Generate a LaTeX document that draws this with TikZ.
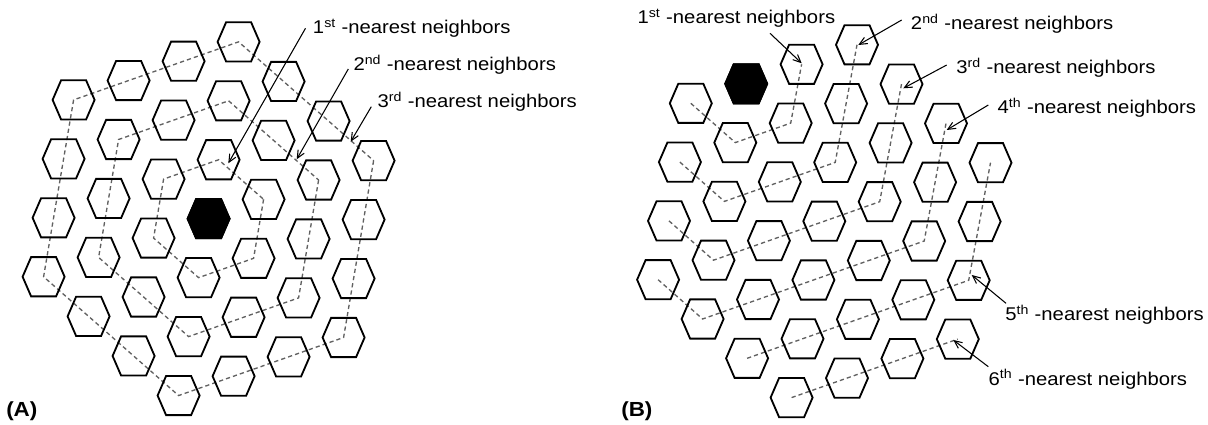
\documentclass[tikz,border=0pt]{standalone}
\usepackage{fontspec}
\setmainfont{Liberation Sans}[FakeStretch=1.1]
\usetikzlibrary{arrows.meta}
\begin{document}
\begin{tikzpicture}[x=0.025cm,y=-0.025cm,
  tile/.style={draw=black,line width=1.3pt,line join=miter},
  core/.style={fill=black,draw=black,line width=1.3pt,line join=miter},
  ring/.style={draw=black!62,dash pattern=on 3pt off 2.2pt,line width=0.95pt,line join=miter},
  ptr/.style={draw=black,line width=0.75pt,-{Straight Barb[length=5.5pt,width=5pt]}},
  lbl/.style={anchor=base west,inner sep=0pt,font=\fontsize{13.1}{16}\selectfont},
  panel/.style={anchor=base west,inner sep=0pt,font=\fontsize{14.5}{17}\selectfont\bfseries},
  pics/hextile/.style={code={\path[#1] (-21,0) -- (-12.5,-19.6) -- (12.5,-19.6) -- (21,0) -- (12.5,19.6) -- (-12.5,19.6) -- cycle;}}]
\useasboundingbox (0,0) rectangle (1208,425);

% ---------- panel A lattice ----------
\foreach \m in {-3,...,3}{\foreach \n in {-3,...,3}{
  \pgfmathtruncatemacro\s{\m+\n}
  \ifnum\s>3\relax\else\ifnum\s<-3\relax\else
    \coordinate (a\m_\n) at ({208.6+\m*55+\n*45},{218.7-\m*19.35+\n*39.6});
  \fi\fi}}

% ---------- panel B lattice ----------
\foreach \m in {-4,...,2}{\foreach \n in {0,...,6}{
  \pgfmathtruncatemacro\s{\m+\n}
  \ifnum\s>5\relax\else\ifnum\s<-1\relax\else
    \coordinate (b\m_\n) at ({746.2+\m*55.4+\n*44.5},{83.8-\m*19.5+\n*39.3});
  \fi\fi}}

% ---------- dashed rings A ----------
\draw[ring] (a1_0) -- (a0_1) -- (a-1_1) -- (a-1_0) -- (a0_-1) -- (a1_-1) -- cycle;
\draw[ring] (a2_0) -- (a0_2) -- (a-2_2) -- (a-2_0) -- (a0_-2) -- (a2_-2) -- cycle;
\draw[ring] (a3_0) -- (a0_3) -- (a-3_3) -- (a-3_0) -- (a0_-3) -- (a3_-3) -- cycle;

% ---------- dashed paths B ----------
\draw[ring] (b-1_0) -- (b-1_1) -- (b0_1) -- (b1_0);
\draw[ring] (b-2_1) -- (b-2_2) -- (b0_2) -- (b2_0);
\draw[ring] (b-3_2) -- (b-3_3) -- (b0_3) -- (b2_1);
\draw[ring] (b-4_3) -- (b-4_4) -- (b0_4) -- (b2_2);
\draw[ring] (b-4_5) -- (b0_5) -- (b2_3);
\draw[ring] (b-4_6) -- (b-1_6);

% ---------- tiles ----------
\foreach \m in {-3,...,3}{\foreach \n in {-3,...,3}{
  \pgfmathtruncatemacro\s{\m+\n}
  \ifnum\s>3\relax\else\ifnum\s<-3\relax\else
    \pic at (a\m_\n) {hextile=tile};
  \fi\fi}}
\pic at (a0_0) {hextile=core};

\foreach \m in {-4,...,2}{\foreach \n in {0,...,6}{
  \pgfmathtruncatemacro\s{\m+\n}
  \ifnum\s>5\relax\else\ifnum\s<-1\relax\else
    \pic at (b\m_\n) {hextile=tile};
  \fi\fi}}
\pic at (b0_0) {hextile=core};

% ---------- labels A ----------
\node[lbl] (LA1) at (312.7,33.3) {1\textsuperscript{st} -nearest neighbors};
\node[lbl] (LA2) at (353.3,70.7) {2\textsuperscript{nd} -nearest neighbors};
\node[lbl] (LA3) at (377.3,107.3) {3\textsuperscript{rd} -nearest neighbors};
\coordinate (tA1) at (305.5,28.3);  \coordinate (hA1) at (228.3,163.3);
\coordinate (tA2) at (348.3,69);    \coordinate (hA2) at (296.7,159.3);
\coordinate (tA3) at (371.3,106.7); \coordinate (hA3) at (350.7,141.7);
\draw[ptr] (tA1) -- (hA1);
\draw[ptr] (tA2) -- (hA2);
\draw[ptr] (tA3) -- (hA3);

% ---------- labels B ----------
\node[lbl] (LB1) at (637.3,23.3) {1\textsuperscript{st} -nearest neighbors};
\node[lbl] (LB2) at (910.7,29.3) {2\textsuperscript{nd} -nearest neighbors};
\node[lbl] (LB3) at (956,73.3) {3\textsuperscript{rd} -nearest neighbors};
\node[lbl] (LB4) at (997.3,113.3) {4\textsuperscript{th} -nearest neighbors};
\node[lbl] (LB5) at (1005,320.7) {5\textsuperscript{th} -nearest neighbors};
\node[lbl] (LB6) at (988.3,385) {6\textsuperscript{th} -nearest neighbors};
\coordinate (tB1) at (770,33.3);    \coordinate (hB1) at (801.7,63.3);
\coordinate (tB2) at (901.7,20);    \coordinate (hB2) at (858.3,45);
\coordinate (tB3) at (946.7,65);    \coordinate (hB3) at (903.3,88.3);
\coordinate (tB4) at (988.3,105);   \coordinate (hB4) at (946.7,130);
\coordinate (tB5) at (1006,303.3);  \coordinate (hB5) at (971.7,275);
\coordinate (tB6) at (988.3,366.7); \coordinate (hB6) at (953.3,340);
\draw[ptr] (tB1) -- (hB1);
\draw[ptr] (tB2) -- (hB2);
\draw[ptr] (tB3) -- (hB3);
\draw[ptr] (tB4) -- (hB4);
\draw[ptr] (tB5) -- (hB5);
\draw[ptr] (tB6) -- (hB6);

% ---------- panel tags ----------
\node[panel] (PA) at (6,416) {(A)};
\node[panel] (PB) at (621,416) {(B)};
\end{tikzpicture}
\end{document}
